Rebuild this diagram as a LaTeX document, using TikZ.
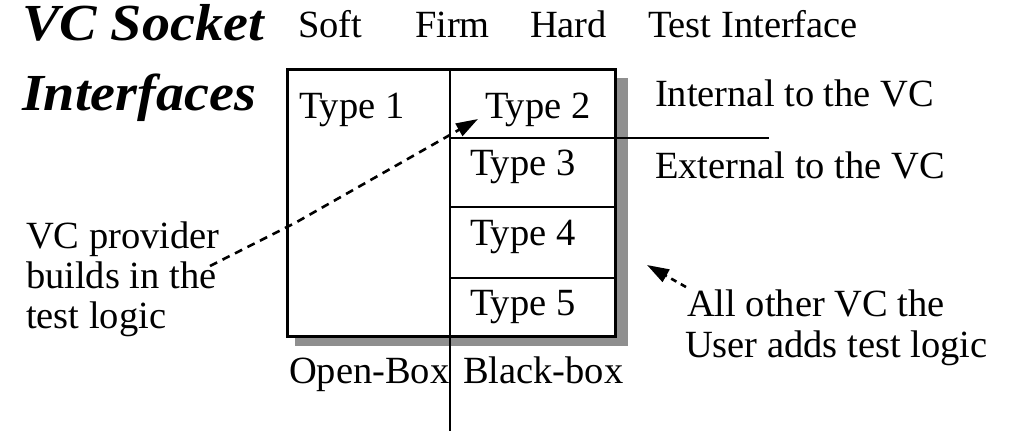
\documentclass[tikz,border=0pt]{standalone}
\usepackage{fontspec}
\setmainfont{Liberation Serif}
\usetikzlibrary{arrows.meta}
\definecolor{shadowgray}{gray}{0.56}
\newcommand\bodyfont{\fontsize{38.5}{40}\selectfont}
\newcommand\titlefont{\fontsize{52}{54}\selectfont\bfseries\itshape}
\begin{document}
\begin{tikzpicture}[x=1pt,y=-1pt,
  lbl/.style={anchor=base west,inner sep=0pt,outer sep=0pt,font=\bodyfont},
  ttl/.style={anchor=base west,inner sep=0pt,outer sep=0pt,font=\titlefont,text height=36pt},
  plainbox/.style={anchor=north west,inner sep=0pt,outer sep=0pt},
  frame/.style={draw,line width=3pt,fill=white},
  divider/.style={line width=2.6pt},
  pointer/.style={line width=2.6pt,dash pattern=on 8pt off 6pt,-{Triangle[length=22pt,width=14pt]}}]
\useasboundingbox (0,0) rectangle (1011,431);
% title
\node[ttl] (title1) at (22,40) {\scalebox{1.08}[1]{VC Socket}};
\node[ttl] (title2) at (22,110) {\scalebox{1.08}[1]{Interfaces}};
% column headings
\node[lbl] (soft) at (298,37) {Soft};
\node[lbl] (firm) at (415,37) {Firm};
\node[lbl] (hard) at (530,37) {Hard};
\node[lbl] (testif) at (648,37) {Test Interface};
% box with shadow
\node[plainbox,fill=shadowgray,minimum width=333pt,minimum height=268pt] (shadow) at (295,78) {};
\node[plainbox,frame,minimum width=328pt,minimum height=267pt] (box) at (287,69) {};
% dividers
\coordinate (vtop) at (450,69);
\coordinate (vbot) at (450,431);
\coordinate (h1a) at (450,138);
\coordinate (h1b) at (769,138);
\coordinate (h2a) at (450,207);
\coordinate (h2b) at (615,207);
\coordinate (h3a) at (450,278);
\coordinate (h3b) at (615,278);
\draw[divider] (vtop) -- (vbot);
\draw[divider] (h1a) -- (h1b);
\draw[divider] (h2a) -- (h2b);
\draw[divider] (h3a) -- (h3b);
% type labels
\node[lbl] (type1) at (299,118) {Type 1};
\node[lbl] (type2) at (485,118) {Type 2};
\node[lbl] (type3) at (470,175) {Type 3};
\node[lbl] (type4) at (470,245) {Type 4};
\node[lbl] (type5) at (470,315) {Type 5};
% right labels
\node[lbl] (internal) at (655,106) {Internal to the VC};
\node[lbl] (external) at (655,178) {External to the VC};
% left note
\node[lbl] (prov1) at (26,248) {VC provider};
\node[lbl] (prov2) at (26,288) {builds in the};
\node[lbl] (prov3) at (26,328) {test logic};
% right note
\node[lbl] (user1) at (687,316) {All other VC the};
\node[lbl] (user2) at (685,357) {User adds test logic};
% bottom labels
\node[lbl] (openbox) at (289,383) {Open-Box};
\node[lbl] (blackbox) at (463,383) {Black-box};
% pointers
\coordinate (p0) at (210,266);
\coordinate (p1) at (295,223);
\coordinate (p2) at (478,119);
\draw[pointer] (p0) -- (p1) -- (p2);
\coordinate (q0) at (686,287);
\coordinate (q1) at (647,265);
\draw[pointer,dash pattern=on 6pt off 5pt] (q0) -- (q1);
\end{tikzpicture}
\end{document}
